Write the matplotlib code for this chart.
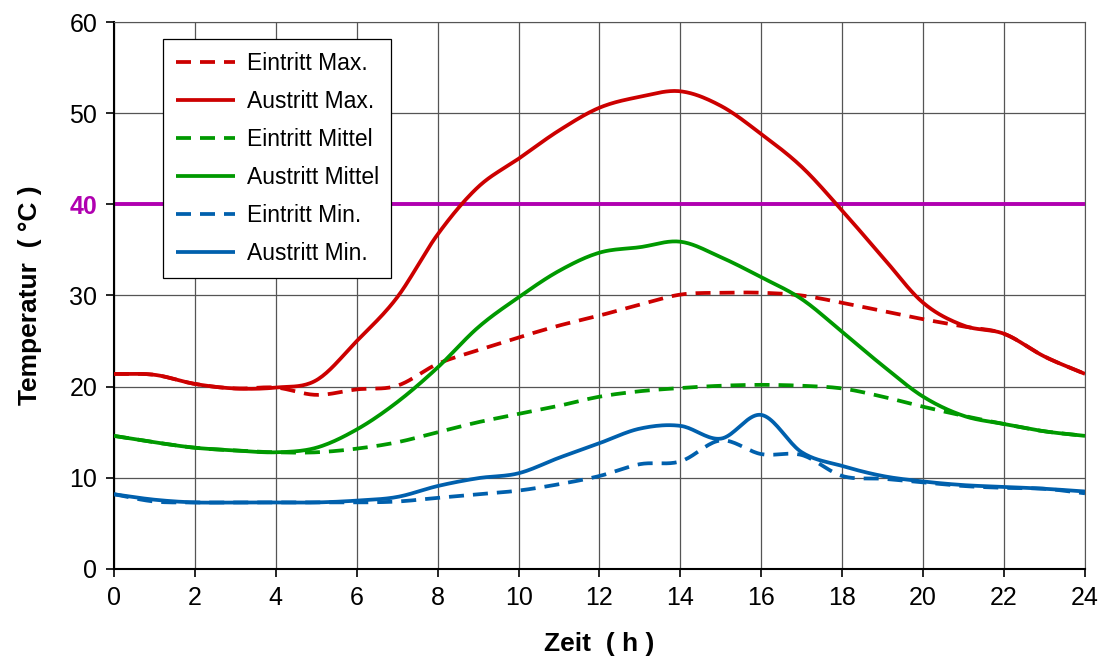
"""
Tagesgang der Ein- und Austrittstemperaturen (Max / Mittel / Min)
"""
import numpy as np
import matplotlib
matplotlib.use('Agg')
import matplotlib.pyplot as plt

plt.rcParams['font.family'] = ['Liberation Sans', 'DejaVu Sans']

# Stundenwerte (0..24 h)
hours = list(range(25))

austritt_max = [21.4, 21.3, 20.3, 19.8, 19.9, 20.7, 25.0, 29.8, 36.7, 41.9, 45.0, 48.1, 50.6,
                51.8, 52.4, 50.8, 47.7, 44.1, 39.3, 34.2, 29.2, 26.7, 25.8, 23.3, 21.4]
eintritt_max = [21.4, 21.3, 20.3, 19.8, 19.9, 19.1, 19.7, 20.1, 22.5, 24.0, 25.4, 26.7, 27.8,
                29.0, 30.1, 30.3, 30.3, 30.0, 29.2, 28.3, 27.4, 26.6, 25.8, 23.3, 21.4]
austritt_mittel = [14.6, 13.9, 13.3, 13.0, 12.8, 13.3, 15.3, 18.3, 22.1, 26.5, 29.8, 32.7, 34.7,
                   35.3, 35.9, 34.2, 32.0, 29.6, 26.0, 22.3, 18.9, 16.8, 15.9, 15.1, 14.6]
eintritt_mittel = [14.6, 13.9, 13.3, 13.0, 12.8, 12.8, 13.2, 13.9, 15.0, 16.1, 17.0, 17.9, 18.9,
                   19.5, 19.85, 20.1, 20.2, 20.1, 19.8, 18.9, 17.8, 16.8, 15.9, 15.1, 14.6]
austritt_min = [8.2, 7.6, 7.3, 7.3, 7.3, 7.3, 7.5, 7.9, 9.1, 9.96, 10.5, 12.2, 13.8,
                15.4, 15.7, 14.3, 16.9, 12.8, 11.3, 10.2, 9.6, 9.2, 9.0, 8.8, 8.5]
eintritt_min = [8.2, 7.4, 7.3, 7.3, 7.3, 7.3, 7.3, 7.4, 7.8, 8.2, 8.6, 9.3, 10.2,
                11.5, 11.8, 14.1, 12.6, 12.5, 10.2, 9.9, 9.5, 9.1, 8.9, 8.8, 8.3]

grenzwert = 40

RED = '#CC0000'
GREEN = '#009900'
BLUE = '#0060AD'
MAGENTA = '#B000B0'


def smooth(x, y, n=20):
    """Catmull-Rom Glaettung wie Excel 'geglaettete Linie'"""
    x = np.asarray(x, float)
    y = np.asarray(y, float)
    px = np.concatenate([[2 * x[0] - x[1]], x, [2 * x[-1] - x[-2]]])
    py = np.concatenate([[2 * y[0] - y[1]], y, [2 * y[-1] - y[-2]]])
    xs, ys = [], []
    t = np.linspace(0, 1, n, endpoint=False)
    for i in range(1, len(px) - 2):
        for arr, out in ((px, xs), (py, ys)):
            p0, p1, p2, p3 = arr[i - 1], arr[i], arr[i + 1], arr[i + 2]
            out.extend(0.5 * (2 * p1 + (-p0 + p2) * t
                              + (2 * p0 - 5 * p1 + 4 * p2 - p3) * t ** 2
                              + (-p0 + 3 * p1 - 3 * p2 + p3) * t ** 3))
    xs.append(x[-1])
    ys.append(y[-1])
    return np.array(xs), np.array(ys)


fig = plt.figure(figsize=(11.02, 6.59), dpi=100)
ax = fig.add_axes([0.1034, 0.1366, 0.8812, 0.830])

series = [
    (eintritt_max, RED, True, 'Eintritt Max.'),
    (austritt_max, RED, False, 'Austritt Max.'),
    (eintritt_mittel, GREEN, True, 'Eintritt Mittel'),
    (austritt_mittel, GREEN, False, 'Austritt Mittel'),
    (eintritt_min, BLUE, True, 'Eintritt Min.'),
    (austritt_min, BLUE, False, 'Austritt Min.'),
]

ax.axhline(grenzwert, color=MAGENTA, lw=2.8, zorder=2)

for vals, col, dashed, lab in series:
    xs, ys = smooth(hours, vals)
    line, = ax.plot(xs, ys, color=col, lw=2.7, label=lab, zorder=3,
                    solid_capstyle='butt')
    if dashed:
        line.set_dashes([4, 2.4])

ax.set_xlim(0, 24)
ax.set_ylim(0, 60)
ax.set_xticks(range(0, 25, 2))
ax.set_yticks(range(0, 61, 10))
ax.grid(True, color='#555555', lw=0.9)
ax.set_axisbelow(True)
ax.tick_params(labelsize=18, direction='out', length=6, width=1.2, pad=6)
for sp in ax.spines.values():
    sp.set_color('#555555')
ax.spines['left'].set_color('black')
ax.spines['bottom'].set_color('black')
ax.spines['left'].set_linewidth(1.5)
ax.spines['bottom'].set_linewidth(1.5)

for lbl in ax.get_yticklabels():
    if lbl.get_text() == '40':
        lbl.set_color(MAGENTA)
        lbl.set_fontweight('bold')

ax.set_xlabel('Zeit  ( h )', fontsize=19, fontweight='bold', labelpad=16)
ax.set_ylabel('Temperatur  ( °C )', fontsize=19, fontweight='bold', labelpad=20)

leg = ax.legend(loc='upper left', bbox_to_anchor=(0.0505, 0.969), borderaxespad=0,
                fontsize=16.5, handlelength=2.6, handletextpad=0.5, labelspacing=0.66,
                borderpad=0.55, fancybox=False, framealpha=1, edgecolor='black')
leg.get_frame().set_linewidth(0.9)

fig.savefig('out.png', dpi=100)
